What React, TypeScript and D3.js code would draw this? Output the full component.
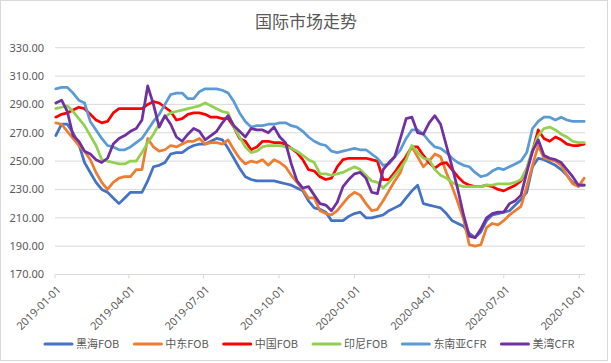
import React, { useEffect, useRef } from "react";
import * as d3 from "d3";

// weekly quotes, first week 2019-01-02
const firstWeek = "2019-01-02";
const tickDates = ["2019-01-01", "2019-04-01", "2019-07-01", "2019-10-01", "2020-01-01", "2020-04-01", "2020-07-01", "2020-10-01"];
const yTicks = [170, 190, 210, 230, 250, 270, 290, 310, 330];

const seriesNames = ["黑海FOB", "中东FOB", "中国FOB", "印尼FOB", "东南亚CFR", "美湾CFR"];
const seriesColors = ["#4472C4", "#ED7D31", "#FF0000", "#92D050", "#5B9BD5", "#7030A0"];

const heihaiFOB = [268, 276, 276, 270, 262, 249, 242, 235, 230, 228, 224, 220, 224, 228, 228, 228, 236, 246, 247, 249,
  255, 256, 256, 259, 261, 262, 262, 264, 266, 265, 259, 252, 245, 239, 237, 236, 236, 236, 236, 235,
  234, 233, 231, 229, 222, 217, 216, 214, 208, 208, 208, 211, 213, 214, 210, 210, 211, 212, 215, 217,
  219, 224, 229, 233, 220, 219, 218, 217, 213, 208, 206, 204, 199, 196, 200, 208, 212, 213, 214, 215,
  219, 223, 228, 246, 252, 251, 249, 247, 244, 240, 235, 233, 233];
const zhongdongFOB = [277, 276, 271, 266, 261, 257, 251, 242, 235, 230, 235, 238, 239, 239, 244, 244, 266, 260, 257, 258,
  261, 260, 262, 264, 264, 266, 262, 263, 263, 262, 265, 258, 252, 248, 250, 249, 251, 247, 251, 249,
  246, 240, 235, 230, 224, 224, 215, 213, 212, 215, 220, 225, 228, 226, 220, 215, 216, 222, 229, 236,
  242, 254, 260, 253, 246, 250, 255, 253, 242, 232, 221, 209, 191, 190, 191, 203, 206, 205, 208, 212,
  215, 218, 232, 247, 261, 252, 251, 250, 247, 240, 234, 232, 238];
const zhongguoFOB = [281, 283, 284, 286, 288, 287, 283, 279, 277, 278, 284, 287, 287, 287, 287, 287, 290, 292, 291, 288,
  285, 279, 280, 283, 284, 284, 283, 281, 281, 280, 280, 274, 266, 264, 258, 260, 264, 264, 263, 263,
  262, 259, 256, 251, 244, 243, 239, 237, 238, 246, 251, 252, 252, 252, 252, 251, 250, 237, 237, 242,
  248, 253, 260, 260, 254, 249, 245, 248, 249, 244, 239, 235, 233, 232, 232, 233, 232, 230, 229, 231,
  233, 236, 244, 257, 272, 266, 264, 267, 265, 262, 261, 261, 262];
const yinniFOB = [287, 288, 289, 285, 280, 275, 268, 261, 251, 250, 249, 248, 248, 250, 250, 256, 263, 269, 276, 281,
  284, 285, 286, 287, 288, 289, 291, 289, 287, 285, 284, 274, 267, 260, 256, 257, 260, 261, 261, 261,
  260, 259, 257, 254, 251, 249, 241, 241, 240, 241, 242, 244, 246, 244, 240, 236, 235, 231, 235, 240,
  245, 251, 261, 256, 252, 251, 244, 240, 238, 235, 233, 232, 232, 232, 232, 233, 233, 234, 234, 234,
  235, 237, 245, 258, 268, 273, 274, 272, 269, 267, 264, 263, 263];
const dongnanyaCFR = [301, 302, 302, 298, 293, 291, 278, 272, 266, 261, 260, 258, 258, 260, 263, 266, 272, 278, 283, 290,
  297, 298, 298, 294, 294, 299, 301, 301, 301, 300, 298, 292, 284, 278, 274, 275, 275, 276, 276, 277,
  277, 275, 274, 271, 267, 264, 262, 261, 257, 256, 257, 258, 259, 258, 258, 255, 252, 247, 248, 253,
  258, 266, 272, 272, 269, 264, 260, 259, 256, 252, 249, 247, 246, 242, 239, 240, 243, 245, 244, 246,
  248, 250, 256, 273, 278, 281, 281, 279, 281, 279, 278, 278, 278];
const meiwanCFR = [291, 293, 285, 268, 264, 257, 255, 251, 249, 252, 262, 266, 268, 271, 273, 279, 303, 290, 274, 282,
  276, 267, 264, 269, 273, 271, 265, 268, 271, 277, 282, 275, 271, 267, 273, 272, 272, 270, 274, 267,
  263, 248, 236, 231, 232, 226, 220, 219, 215, 221, 232, 237, 241, 242, 238, 228, 227, 244, 249, 253,
  266, 280, 281, 270, 269, 277, 282, 276, 261, 246, 230, 212, 197, 196, 202, 210, 213, 214, 214, 220,
  222, 226, 242, 257, 265, 254, 252, 251, 249, 244, 239, 233, 233];

const seriesValues = [heihaiFOB, zhongdongFOB, zhongguoFOB, yinniFOB, dongnanyaCFR, meiwanCFR];

const W = 611, H = 363;
const plot = { left: 55, right: 585, top: 47.7, bottom: 274.5 };
const fontNum = "'Noto Sans', sans-serif";
const fontCjk = "'Noto Sans CJK SC', 'Noto Sans', sans-serif";

export default function App() {
  const ref = useRef<SVGSVGElement>(null);

  useEffect(() => {
    const svg = d3.select(ref.current);
    svg.selectAll("*").remove();

    const parse = d3.utcParse("%Y-%m-%d");
    const start = parse(firstWeek) as Date;
    const dates = heihaiFOB.map((_, i) => d3.utcDay.offset(start, 7 * i));

    const x = d3.scaleUtc()
      .domain([parse("2019-01-01") as Date, parse("2020-10-08") as Date])
      .range([plot.left, plot.right]);
    const y = d3.scaleLinear().domain([170, 330]).range([plot.bottom, plot.top]);

    // chart frame
    svg.append("rect")
      .attr("x", 0.5).attr("y", 0.5)
      .attr("width", 607).attr("height", 360)
      .attr("fill", "#fff").attr("stroke", "#d9d9d9");

    svg.append("text")
      .attr("x", 306).attr("y", 28)
      .attr("text-anchor", "middle")
      .style("font-family", fontCjk).style("font-size", "17px")
      .attr("fill", "#595959")
      .text("国际市场走势");

    // gridlines + y labels
    const yAxis = svg.append("g");
    yAxis.selectAll("line").data(yTicks).join("line")
      .attr("x1", plot.left).attr("x2", plot.right)
      .attr("y1", d => y(d)).attr("y2", d => y(d))
      .attr("stroke", "#d9d9d9").attr("stroke-width", 1);
    yAxis.selectAll("text").data(yTicks).join("text")
      .attr("x", 44).attr("y", d => y(d))
      .attr("dy", "0.35em")
      .attr("text-anchor", "end")
      .style("font-family", fontNum).style("font-size", "11px")
      .attr("fill", "#595959")
      .text(d => d3.format(".2f")(d));

    // x ticks and rotated labels
    const xAxis = svg.append("g");
    const ticks = tickDates.map(s => parse(s) as Date);
    xAxis.selectAll("line").data(ticks).join("line")
      .attr("x1", d => x(d)).attr("x2", d => x(d))
      .attr("y1", plot.bottom).attr("y2", plot.bottom + 4)
      .attr("stroke", "#d9d9d9");
    xAxis.selectAll("text").data(tickDates).join("text")
      .attr("transform", d => `translate(${x(parse(d) as Date) + 4},${plot.bottom + 13}) rotate(-45)`)
      .attr("text-anchor", "end")
      .attr("dy", "0.35em")
      .style("font-family", fontNum).style("font-size", "11px")
      .attr("fill", "#595959")
      .text(d => d);

    // series lines
    const line = d3.line<number>()
      .x((_, i) => x(dates[i]))
      .y(d => y(d));
    svg.append("g").selectAll("path").data(seriesValues).join("path")
      .attr("d", d => line(d))
      .attr("fill", "none")
      .attr("stroke", (_, i) => seriesColors[i])
      .attr("stroke-width", 2.75)
      .attr("stroke-linejoin", "round")
      .attr("stroke-linecap", "round");

    // legend
    const legend = svg.append("g");
    let lx = 45;
    seriesNames.forEach((name, i) => {
      legend.append("line")
        .attr("x1", lx).attr("x2", lx + 27)
        .attr("y1", 344).attr("y2", 344)
        .attr("stroke", seriesColors[i]).attr("stroke-width", 3)
        .attr("stroke-linecap", "round");
      const t = legend.append("text")
        .attr("x", lx + 31).attr("y", 344)
        .attr("dy", "0.35em")
        .style("font-family", fontCjk).style("font-size", "11px")
        .attr("fill", "#595959")
        .text(name);
      const tw = (t.node() as SVGTextElement).getComputedTextLength();
      lx += 31 + tw + 15;
    });
  }, []);

  return (
    <svg ref={ref} width={W} height={H}
      style={{ position: "absolute", left: 0, top: 0, background: "#fff" }} />
  );
}
